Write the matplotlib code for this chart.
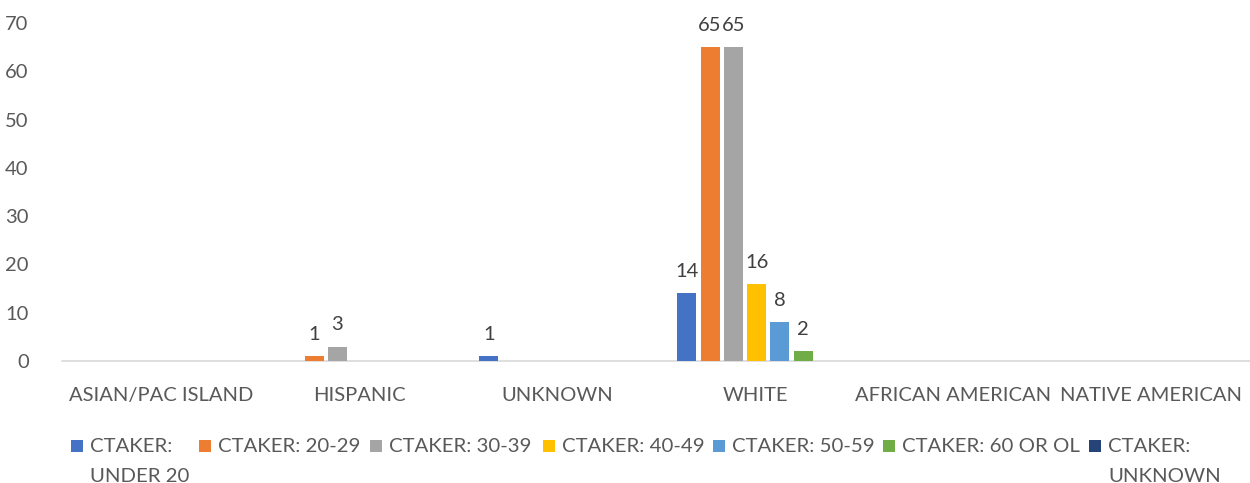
import matplotlib
matplotlib.use("Agg")
import matplotlib.pyplot as plt
from matplotlib.patches import Rectangle
import numpy as np

categories = ["ASIAN/PAC ISLAND", "HISPANIC", "UNKNOWN", "WHITE", "AFRICAN AMERICAN", "NATIVE AMERICAN"]
series_names = ["CTAKER: UNDER 20", "CTAKER: 20-29", "CTAKER: 30-39", "CTAKER: 40-49",
                "CTAKER: 50-59", "CTAKER: 60 OR OL", "CTAKER: UNKNOWN"]
legend_labels = ["CTAKER:\nUNDER 20", "CTAKER: 20-29", "CTAKER: 30-39", "CTAKER: 40-49",
                 "CTAKER: 50-59", "CTAKER: 60 OR OL", "CTAKER:\nUNKNOWN"]
under20 = [0, 0, 1, 14, 0, 0]
age20_29 = [0, 1, 0, 65, 0, 0]
age30_39 = [0, 3, 0, 65, 0, 0]
age40_49 = [0, 0, 0, 16, 0, 0]
age50_59 = [0, 0, 0, 8, 0, 0]
age60 = [0, 0, 0, 2, 0, 0]
age_unknown = [0, 0, 0, 0, 0, 0]
series = [under20, age20_29, age30_39, age40_49, age50_59, age60, age_unknown]
colors = ["#4472C4", "#ED7D31", "#A5A5A5", "#FFC000", "#5B9BD5", "#70AD47", "#264478"]
yticks = [0, 10, 20, 30, 40, 50, 60, 70]

plt.rcParams['font.family'] = ['Lato', 'DejaVu Sans']

W, H = 1250, 483
fig = plt.figure(figsize=(W / 100, H / 100), dpi=100)
ax = fig.add_axes([62 / W, 1 - 361 / H, (1250 - 62) / W, (361 - 23) / H])

x = np.arange(len(categories))
step = 0.1175
width = 0.096
n = len(series)
for i, vals in enumerate(series):
    pos = x + (i - (n - 1) / 2) * step + 0.008
    bars = ax.bar(pos, vals, width=width, color=colors[i], zorder=3)
    for b, v in zip(bars, vals):
        if v:
            ax.text(b.get_x() + b.get_width() / 2, v + 2.7, str(v), ha="center", va="bottom",
                    fontsize=14.5, color="#404040")

ax.set_xlim(-0.5, len(categories) - 0.5)
ax.set_ylim(0, 70)
ax.set_yticks(yticks)
ax.set_xticks(x)
ax.set_xticklabels(categories)
for s in ["top", "right", "left"]:
    ax.spines[s].set_visible(False)
ax.spines["bottom"].set_color("#D9D9D9")
ax.spines["bottom"].set_linewidth(1.2)
ax.tick_params(axis="both", length=0, labelsize=14.5, labelcolor="#595959")
ax.tick_params(axis="x", pad=19)
ax.tick_params(axis="y", pad=24)

# manual legend
sq_x = [71, 199, 370, 543, 713, 883, 1089]
for i, (sx, lab) in enumerate(zip(sq_x, legend_labels)):
    fig.patches.append(Rectangle((sx / W, 1 - 452 / H), 12 / W, 12 / H, transform=fig.transFigure,
                                 facecolor=colors[i], edgecolor="none"))
    fig.text((sx + 19) / W, 1 - 438 / H, lab, ha="left", va="top",
             fontsize=14.7, color="#595959", linespacing=1.95)

fig.savefig("out.png", dpi=100)
